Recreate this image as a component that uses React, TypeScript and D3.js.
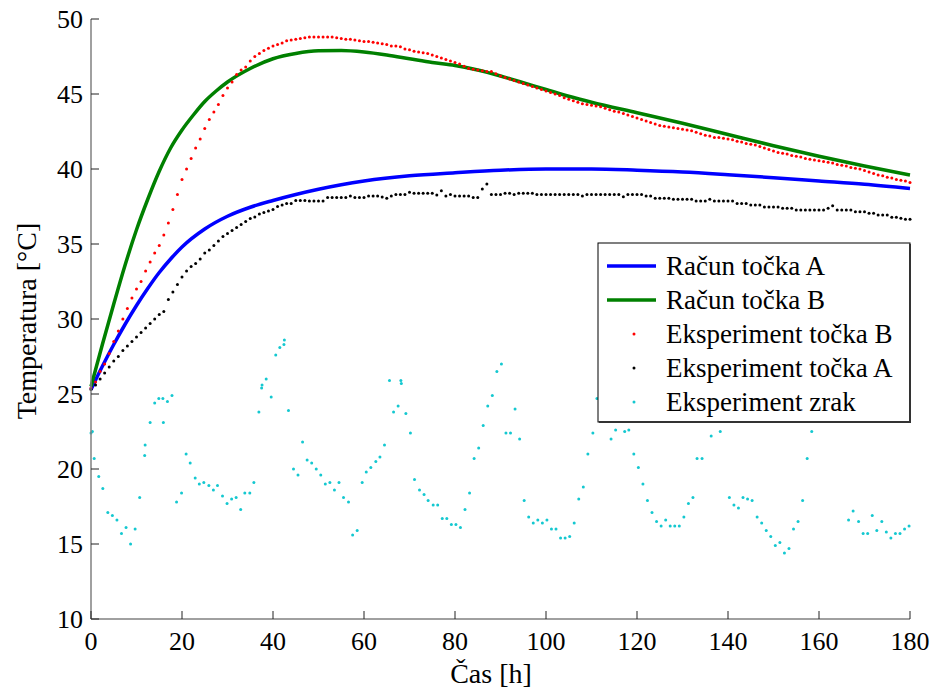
import React from "react";
import * as d3 from "d3";

const xTicks = [0, 20, 40, 60, 80, 100, 120, 140, 160, 180];
const yTicks = [10, 15, 20, 25, 30, 35, 40, 45, 50];

// Model curves (Račun)
const calcAHours = [0, 2.5, 5, 7.5, 10, 12.5, 15, 17.5, 20, 25, 30, 35, 40, 45, 50, 55, 60, 70, 80, 90, 100, 110, 120, 130, 140, 150, 160, 170, 180];
const calcATemps = [25.3, 26.85, 28.3, 29.65, 30.9, 32.05, 33.1, 34.0, 34.8, 36.0, 36.85, 37.45, 37.9, 38.3, 38.65, 38.95, 39.2, 39.55, 39.75, 39.92, 40.0, 40.0, 39.92, 39.8, 39.62, 39.42, 39.2, 38.98, 38.7];

const calcBHours = [0, 2.5, 5, 7.5, 10, 12.5, 15, 17.5, 20, 22.5, 25, 27.5, 30, 35, 40, 45, 50, 55, 60, 65, 70, 75, 80, 85, 90, 95, 100, 105, 110, 120, 130, 140, 150, 160, 170, 180];
const calcBTemps = [25.5, 28.3, 31.0, 33.6, 35.95, 38.0, 39.85, 41.4, 42.6, 43.6, 44.5, 45.2, 45.8, 46.7, 47.35, 47.7, 47.88, 47.9, 47.8, 47.6, 47.35, 47.1, 46.9, 46.6, 46.2, 45.75, 45.3, 44.85, 44.45, 43.75, 43.05, 42.3, 41.55, 40.85, 40.2, 39.6];

// Experiment B (hourly, t = 0..180)
const expBTemps = [
  25.4, 25.8, 26.5, 27.0, 27.7, 28.5, 29.2, 30.0, 30.7, 31.4,
  32.0, 32.5, 33.2, 33.8, 34.4, 34.9, 35.6, 36.4, 37.3, 38.3,
  39.3, 40.0, 40.7, 41.4, 42.0, 42.7, 43.3, 43.8, 44.3, 44.9,
  45.4, 45.8, 46.3, 46.6, 46.8, 47.2, 47.5, 47.7, 47.9, 48.05,
  48.2, 48.3, 48.4, 48.55, 48.6, 48.65, 48.7, 48.75, 48.8, 48.8,
  48.8, 48.8, 48.8, 48.8, 48.75, 48.7, 48.65, 48.65, 48.6, 48.55,
  48.5, 48.5, 48.45, 48.4, 48.35, 48.3, 48.2, 48.2, 48.15, 48.0,
  47.95, 47.85, 47.8, 47.75, 47.7, 47.6, 47.5, 47.4, 47.3, 47.2,
  47.1, 47.0, 46.85, 46.7, 46.65, 46.6, 46.55, 46.5, 46.5, 46.35,
  46.2, 46.1, 46.0, 45.9, 45.8, 45.7, 45.6, 45.5, 45.4, 45.3,
  45.2, 45.1, 45.0, 44.9, 44.75, 44.65, 44.55, 44.45, 44.35, 44.3,
  44.25, 44.2, 44.15, 44.05, 43.95, 43.85, 43.8, 43.7, 43.6, 43.5,
  43.4, 43.3, 43.2, 43.1, 43.0, 42.9, 42.85, 42.8, 42.75, 42.7,
  42.65, 42.6, 42.55, 42.45, 42.35, 42.25, 42.2, 42.1, 42.1, 42.05,
  42.0, 41.95, 41.85, 41.8, 41.7, 41.65, 41.6, 41.5, 41.4, 41.3,
  41.2, 41.1, 41.05, 41.0, 40.9, 40.85, 40.8, 40.7, 40.65, 40.6,
  40.55, 40.5, 40.45, 40.4, 40.3, 40.25, 40.2, 40.1, 40.05, 40.0,
  39.9, 39.8, 39.7, 39.6, 39.55, 39.45, 39.4, 39.3, 39.25, 39.2,
  39.1,
];

// Experiment A (hourly, t = 0..180)
const expATemps = [
  25.3, 25.6, 26.0, 26.4, 26.8, 27.2, 27.5, 27.9, 28.2, 28.5,
  28.8, 29.1, 29.4, 29.7, 30.0, 30.3, 30.5, 31.3, 31.8, 32.3,
  32.8, 33.2, 33.5, 33.7, 34.0, 34.4, 34.6, 34.9, 35.2, 35.5,
  35.7, 35.9, 36.1, 36.3, 36.5, 36.7, 36.8, 37.0, 37.1, 37.2,
  37.3, 37.5, 37.6, 37.7, 37.7, 37.9, 37.9, 37.9, 37.87, 37.87,
  37.87, 37.87, 38.1, 38.1, 38.1, 38.1, 38.1, 38.2, 38.1, 38.1,
  38.1, 38.2, 38.2, 38.2, 38.13, 38.05, 38.2, 38.3, 38.3, 38.3,
  38.45, 38.38, 38.38, 38.38, 38.38, 38.38, 38.27, 38.55, 38.2, 38.3,
  38.2, 38.2, 38.2, 38.2, 38.1, 38.1, 38.67, 39.0, 38.3, 38.3,
  38.3, 38.38, 38.38, 38.3, 38.38, 38.38, 38.38, 38.38, 38.3, 38.3,
  38.3, 38.3, 38.3, 38.3, 38.3, 38.3, 38.3, 38.3, 38.2, 38.3,
  38.3, 38.3, 38.3, 38.3, 38.3, 38.3, 38.3, 38.15, 38.3, 38.3,
  38.3, 38.3, 38.2, 38.2, 38.05, 38.05, 38.05, 38.05, 37.98, 37.98,
  37.98, 37.98, 37.98, 37.87, 37.87, 37.87, 37.98, 37.87, 37.87, 37.87,
  37.87, 37.87, 37.7, 37.7, 37.7, 37.6, 37.6, 37.6, 37.47, 37.47,
  37.47, 37.47, 37.38, 37.38, 37.38, 37.27, 37.27, 37.27, 37.27, 37.27,
  37.27, 37.27, 37.38, 37.55, 37.27, 37.27, 37.27, 37.27, 37.15, 37.15,
  37.15, 37.05, 37.05, 36.93, 36.93, 36.93, 36.78, 36.78, 36.72, 36.65,
  36.65,
];

// Experiment air (zrak)
const airHours = [
  0.0, 0.3, 0.7, 1.7, 2.6, 3.7, 4.7, 5.7, 6.7, 7.7, 8.7, 9.7, 10.7, 11.8, 11.9, 13.0, 14.0, 14.9, 15.8, 15.9,
  16.8, 17.8, 18.8, 19.9, 20.9, 21.8, 22.9, 23.8, 24.8, 25.9, 26.9, 27.8, 28.9, 29.9, 30.9, 31.9, 32.9, 33.8, 34.9, 35.8,
  36.9, 37.5, 37.6, 38.5, 39.6, 40.6, 41.5, 42.4, 42.5, 43.4, 44.5, 45.5, 46.5, 47.5, 48.5, 49.5, 50.5, 51.5, 52.5, 53.5,
  54.5, 55.5, 56.6, 57.5, 58.5, 59.6, 60.5, 61.5, 62.6, 63.5, 64.5, 65.6, 66.5, 67.5, 68.1, 68.2, 69.2, 70.2, 71.1, 72.2,
  73.2, 74.1, 75.2, 76.2, 77.2, 78.2, 79.2, 80.2, 81.2, 82.2, 83.2, 84.2, 85.2, 86.2, 87.2, 88.2, 89.2, 90.2, 91.2, 92.2,
  93.2, 94.2, 95.2, 96.2, 97.2, 98.2, 99.2, 100.2, 101.2, 102.2, 103.2, 104.2, 105.2, 106.2, 107.2, 108.2, 109.2, 110.3, 111.2, 112.3,
  113.3, 114.3, 115.3, 116.3, 117.3, 118.2, 119.3, 120.3, 121.3, 122.3, 123.3, 124.3, 125.3, 126.3, 127.3, 128.3, 129.3, 130.3, 131.3, 132.3,
  133.2, 134.3, 135.3, 136.3, 137.3, 138.3, 139.3, 140.3, 141.3, 142.3, 143.3, 144.3, 145.3, 146.4, 147.4, 148.4, 149.4, 150.4, 151.4, 152.4,
  153.4, 154.4, 155.4, 156.4, 157.4, 158.4, 159.4, 160.4, 161.4, 162.4, 163.4, 164.4, 165.4, 166.5, 167.5, 168.7, 169.7, 170.7, 171.7, 172.7,
  173.8, 174.8, 175.8, 176.8, 177.8, 178.8, 179.8,
];
const airTemps = [
  22.4, 22.5, 20.7, 19.5, 18.7, 17.1, 16.9, 16.6, 15.7, 16.1, 15.0, 16.0, 18.1, 20.9, 21.6, 23.1, 24.4, 24.7, 24.7, 23.1,
  24.5, 24.9, 17.8, 18.4, 21.0, 20.4, 19.4, 19.0, 19.1, 18.9, 18.6, 18.9, 18.2, 17.7, 18.0, 18.1, 17.3, 18.4, 18.4, 19.1,
  23.8, 25.4, 25.6, 26.0, 24.8, 27.6, 28.1, 28.3, 28.6, 23.9, 20.0, 19.6, 21.8, 20.6, 20.4, 20.0, 19.6, 19.0, 19.1, 18.6,
  19.1, 18.1, 17.8, 15.6, 15.9, 19.1, 19.8, 20.1, 20.5, 20.8, 21.6, 25.9, 23.8, 24.2, 25.9, 25.7, 23.7, 22.4, 19.3, 18.6,
  18.3, 17.9, 17.6, 17.6, 16.7, 16.7, 16.3, 16.3, 16.1, 17.3, 18.4, 20.7, 21.4, 22.9, 24.2, 24.9, 26.5, 27.0, 22.4, 22.4,
  24.0, 22.0, 17.9, 16.8, 16.4, 16.6, 16.4, 16.6, 16.0, 16.0, 15.4, 15.4, 15.5, 16.4, 18.0, 18.8, 21.0, 22.4, 24.7, 25.8,
  26.2, 22.0, 22.6, 23.8, 22.5, 22.6, 21.0, 20.1, 19.0, 17.9, 17.1, 16.5, 16.2, 16.6, 16.2, 16.2, 16.2, 16.8, 17.7, 18.1,
  20.7, 20.7, 23.6, 22.2, 24.0, 22.5, 23.6, 18.1, 17.6, 17.4, 18.1, 18.0, 17.9, 16.8, 16.4, 15.9, 15.5, 14.9, 15.1, 14.4,
  14.7, 16.0, 16.5, 17.9, 20.7, 22.5, 24.5, 25.5, 26.5, 27.0, 26.0, 25.0, 24.0, 16.6, 17.2, 16.5, 15.7, 15.7, 16.9, 15.9,
  16.5, 15.8, 15.4, 15.7, 15.7, 16.0, 16.2,
];

const legendLabels = ["Račun točka A", "Račun točka B", "Eksperiment točka B", "Eksperiment točka A", "Eksperiment zrak"];
const legendColors = ["#0000ff", "#008000", "#ff0000", "#000000", "#14c8d0"];
const legendKinds = ["line", "line", "dot", "dot", "dot"];

const FONT = '"Times New Roman", Times, "Liberation Serif", "DejaVu Serif", serif';

export default function App() {
  const W = 931, H = 689;
  const left = 91, right = 910, top = 19, bottom = 619;
  const x = d3.scaleLinear().domain([0, 180]).range([left, right]);
  const y = d3.scaleLinear().domain([10, 50]).range([bottom, top]);

  const line = d3
    .line<[number, number]>()
    .x((d) => x(d[0]))
    .y((d) => y(d[1]))
    .curve(d3.curveMonotoneX);

  const calcA = calcAHours.map((h, i) => [h, calcATemps[i]] as [number, number]);
  const calcB = calcBHours.map((h, i) => [h, calcBTemps[i]] as [number, number]);
  const expB = expBTemps.map((v, i) => [i, v] as [number, number]);
  const expA = expATemps.map((v, i) => [i, v] as [number, number]);
  const air = airHours.map((h, i) => [h, airTemps[i]] as [number, number]);

  const r = 1.5;
  const legX = 598, legY = 243, legW = 312, legH = 179;
  const rowY = (i: number) => 266 + i * 34;
  const textStyle = { fontFamily: FONT };

  return (
    <svg
      width={W}
      height={H}
      style={{ position: "absolute", left: 0, top: 0, background: "#fff", fontFamily: FONT }}
    >
      <rect x={0} y={0} width={W} height={H} fill="#fff" />
      {/* data */}
      <path d={line(calcA) || ""} fill="none" stroke="#0000ff" strokeWidth={3.5} />
      <path d={line(calcB) || ""} fill="none" stroke="#008000" strokeWidth={3.5} />
      {expB.map((d, i) => (
        <circle key={"b" + i} cx={x(d[0])} cy={y(d[1])} r={r} fill="#ff0000" />
      ))}
      {expA.map((d, i) => (
        <circle key={"a" + i} cx={x(d[0])} cy={y(d[1])} r={r} fill="#000000" />
      ))}
      {air.map((d, i) => (
        <circle key={"z" + i} cx={x(d[0])} cy={y(d[1])} r={r} fill="#14c8d0" />
      ))}

      {/* axes */}
      <line x1={left} y1={top} x2={left} y2={bottom} stroke="#808080" strokeWidth={1.5} />
      <line x1={left} y1={bottom} x2={right} y2={bottom} stroke="#808080" strokeWidth={1.5} />
      {yTicks.map((t) => (
        <g key={"yt" + t}>
          <line x1={left} x2={left + 8} y1={y(t)} y2={y(t)} stroke="#222" strokeWidth={1} />
          <text x={left - 8} y={y(t)} dy="0.35em" textAnchor="end" fontSize={26} fill="#000" style={textStyle}>
            {t}
          </text>
        </g>
      ))}
      {xTicks.map((t) => (
        <g key={"xt" + t}>
          <line x1={x(t)} x2={x(t)} y1={bottom} y2={bottom - 8} stroke="#222" strokeWidth={1} />
          <text x={x(t)} y={650} textAnchor="middle" fontSize={26} fill="#000" style={textStyle}>
            {t}
          </text>
        </g>
      ))}
      <text x={491} y={683} textAnchor="middle" fontSize={28} fill="#000" style={textStyle}>
        Čas [h]
      </text>
      <text
        transform={`translate(36, 321) rotate(-90)`}
        textAnchor="middle"
        fontSize={28}
        fill="#000"
        style={textStyle}
      >
        Temperatura [°C]
      </text>

      {/* legend */}
      <rect x={legX} y={legY} width={legW} height={legH} fill="#fff" stroke="#000" strokeWidth={1} />
      <line x1={legX + legW} y1={legY + 1} x2={legX + legW} y2={legY + legH + 1} stroke="#333" strokeWidth={2} />
      <line x1={legX + 1} y1={legY + legH} x2={legX + legW + 1} y2={legY + legH} stroke="#333" strokeWidth={2} />
      {legendLabels.map((lab, i) => (
        <g key={"lg" + i}>
          {legendKinds[i] === "line" ? (
            <line x1={607} x2={656} y1={rowY(i)} y2={rowY(i)} stroke={legendColors[i]} strokeWidth={3.5} />
          ) : (
            <circle cx={634} cy={rowY(i)} r={r} fill={legendColors[i]} />
          )}
          <text x={666} y={rowY(i)} dy="0.35em" fontSize={27} fill="#000" style={textStyle}>
            {lab}
          </text>
        </g>
      ))}
    </svg>
  );
}
